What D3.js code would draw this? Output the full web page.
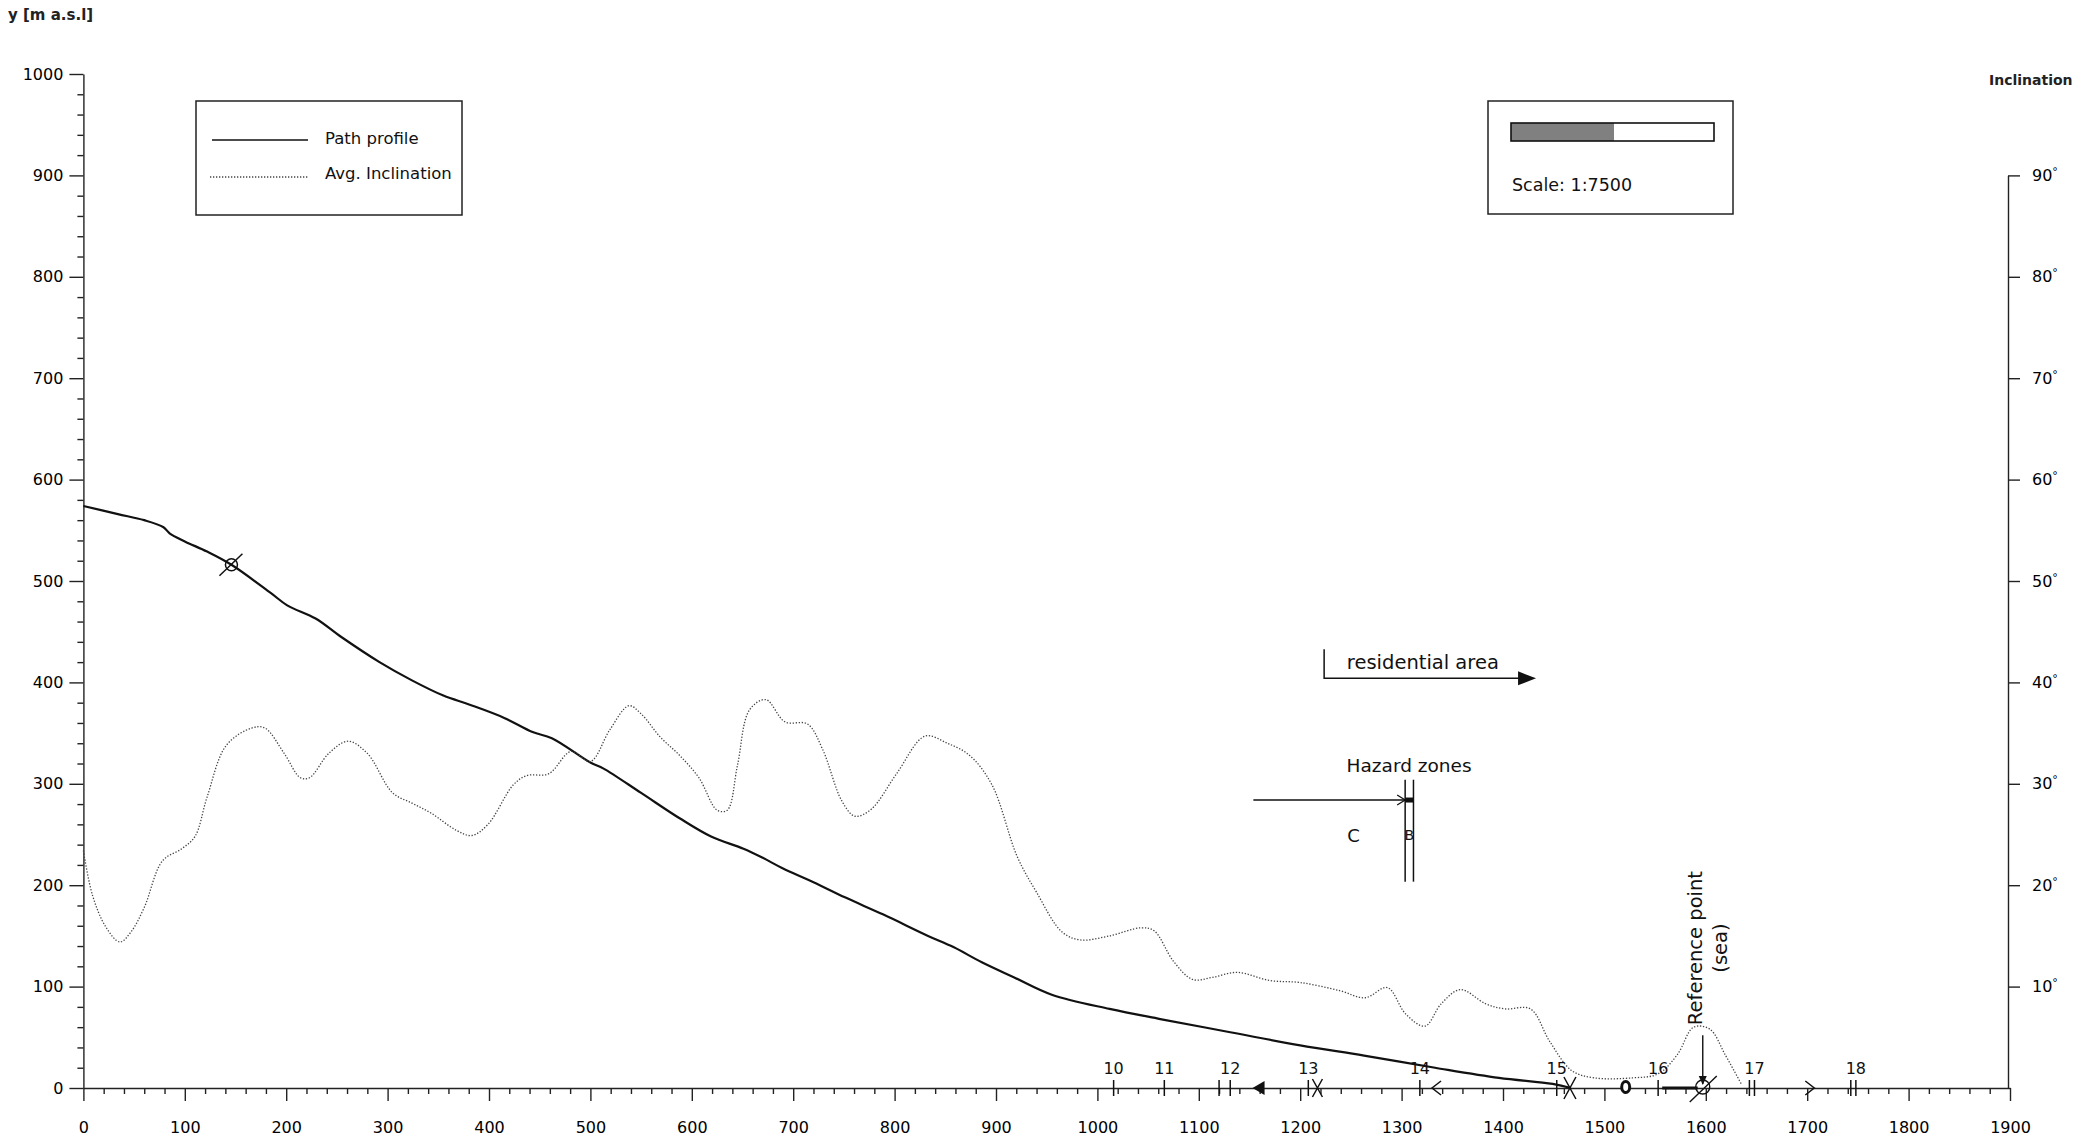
<!DOCTYPE html>
<html>
<head>
<meta charset="utf-8">
<script src="https://cdn.jsdelivr.net/npm/d3@7"></script>
<style>
  body { margin: 0; background: #fff; }
  svg { display: block; font-family: "DejaVu Sans", sans-serif; }
</style>
</head>
<body>
<svg id="chart" width="2076" height="1139"></svg>
<script>
// Path profile: distance along path [m] / elevation [m a.s.l]
const profileDist = [0, 34, 60, 79, 85, 100, 122, 146, 185, 201, 229, 254, 292, 324, 355, 381, 415, 443, 462, 500, 513, 550, 588, 619, 651, 670, 689, 720, 751, 789, 833, 858, 886, 918, 955, 1012, 1062, 1131, 1200, 1263, 1333, 1396, 1449, 1467];
const profileElev = [574, 566, 560, 553, 547, 539, 529, 516, 488, 476, 463, 445, 420, 402, 387, 378, 365, 351, 345, 321, 315, 291, 266, 248, 236, 227, 217, 203, 188, 171, 150, 139, 124, 109, 92, 78, 68, 55, 42, 32, 20, 10, 4, 0];

// Avg. inclination: distance [m] / degrees
const inclDist = [0, 9, 22, 36, 47, 60, 78, 97, 110, 122, 141, 166, 179, 198, 214, 223, 242, 261, 280, 305, 324, 343, 368, 383, 399, 424, 437, 459, 481, 500, 519, 538, 550, 569, 588, 607, 625, 635, 645, 657, 673, 692, 714, 729, 748, 761, 777, 802, 830, 852, 874, 896, 921, 940, 965, 983, 1012, 1043, 1056, 1075, 1094, 1113, 1138, 1170, 1200, 1239, 1264, 1286, 1304, 1323, 1339, 1358, 1383, 1402, 1427, 1446, 1468, 1490, 1528, 1553, 1572, 1588, 1604, 1619, 1635];
const inclDeg = [23.4, 19, 15.9, 14.4, 15.4, 17.8, 22.4, 23.6, 24.8, 28.7, 33.8, 35.5, 35.5, 33, 30.6, 30.6, 33, 34.2, 33, 29.1, 28.1, 27.1, 25.4, 24.9, 26, 29.9, 30.8, 31, 33.2, 32.2, 35.3, 37.7, 36.9, 34.6, 32.8, 30.6, 27.4, 27.4, 31.8, 37.3, 38.3, 36.1, 35.9, 33.4, 28.3, 26.8, 27.5, 31, 34.7, 34, 32.8, 29.9, 22.8, 19.3, 15.4, 14.6, 15, 15.8, 15.5, 12.5, 10.7, 10.9, 11.4, 10.6, 10.4, 9.6, 8.9, 9.9, 7.3, 6.1, 8.3, 9.7, 8.3, 7.8, 7.8, 4.6, 1.7, 1, 1, 1.4, 3.3, 6, 5.8, 3.3, 0.4];

// ticks
const xTicks = d3.range(0, 1901, 100);
const yTicks = d3.range(0, 1001, 100);
const incTicks = d3.range(10, 91, 10);

// numbered section marks along the path
const sectionNums = [10, 11, 12, 13, 14, 15, 16, 17, 18];
const sectionPos = [1016, 1066, 1131, 1208, 1318, 1453, 1553, 1648, 1748];

const svg = d3.select("#chart");
const x = d3.scaleLinear().domain([0, 1900]).range([83.4, 2010]);
const y = d3.scaleLinear().domain([0, 1000]).range([1088, 74]);
const yInc = d3.scaleLinear().domain([0, 90]).range([y(0), y(900)]);

// axes
const gx = svg.append("g").attr("transform", `translate(0,${y(0)})`)
  .call(d3.axisBottom(x).tickValues(xTicks).tickSize(13).tickSizeOuter(0).tickPadding(21).tickFormat(d => d));
svg.append("g").attr("transform", `translate(0,${y(0)})`)
  .call(d3.axisBottom(x).tickValues(d3.range(0, 1901, 20).filter(d => d % 100)).tickSize(6).tickFormat(""))
  .call(g => g.select(".domain").remove());

const gy = svg.append("g").attr("transform", `translate(${x(0)},0)`)
  .call(d3.axisLeft(y).tickValues(yTicks).tickSize(14).tickSizeOuter(0).tickPadding(6).tickFormat(d => d));
svg.append("g").attr("transform", `translate(${x(0)},0)`)
  .call(d3.axisLeft(y).tickValues(d3.range(0, 1001, 20).filter(d => d % 100)).tickSize(6).tickFormat(""))
  .call(g => g.select(".domain").remove());

const gr = svg.append("g").attr("transform", `translate(${x(1900) - 2},0)`)
  .call(d3.axisRight(yInc).tickValues(incTicks).tickSize(12).tickSizeOuter(0).tickPadding(12).tickFormat(d => d));
gr.selectAll(".tick text").append("tspan").attr("dy", "-0.55em").attr("font-size", 11).text("°");

[gx, gy, gr].forEach(g => {
  g.attr("font-size", 16).attr("font-family", "DejaVu Sans");
  g.selectAll("path, line").attr("stroke", "#222").attr("stroke-width", 1.4);
});
svg.selectAll(".tick line").attr("stroke", "#222").attr("stroke-width", 1.4);

// axis titles
svg.append("text").attr("x", 8).attr("y", 20).attr("font-size", 15).attr("font-weight", "bold")
  .attr("fill", "#222").text("y [m a.s.l]");
svg.append("text").attr("x", 1989).attr("y", 85).attr("font-size", 14).attr("font-weight", "bold")
  .attr("fill", "#222").text("Inclination");

// curves
const profileLine = d3.line().x(d => x(d[0])).y(d => y(d[1])).curve(d3.curveCatmullRom);
svg.append("path")
  .datum(d3.zip(profileDist, profileElev))
  .attr("d", profileLine)
  .attr("fill", "none").attr("stroke", "#111").attr("stroke-width", 2.2);

const inclLine = d3.line().x(d => x(d[0])).y(d => yInc(d[1])).curve(d3.curveCatmullRom);
svg.append("path")
  .datum(d3.zip(inclDist, inclDeg))
  .attr("d", inclLine)
  .attr("fill", "none").attr("stroke", "#444").attr("stroke-width", 1.3)
  .attr("stroke-dasharray", "1.3,1.7");

// crossed circle on the profile (start point)
const sx = x(146), sy = y(516);
svg.append("circle").attr("cx", sx).attr("cy", sy).attr("r", 6)
  .attr("fill", "none").attr("stroke", "#111").attr("stroke-width", 1.5);
svg.append("line").attr("x1", sx - 12).attr("y1", sy + 11).attr("x2", sx + 11).attr("y2", sy - 11)
  .attr("stroke", "#111").attr("stroke-width", 1.5);

// section marks on the x axis
const y0 = y(0);
const marks = svg.append("g").attr("stroke", "#111").attr("stroke-width", 1.5).attr("fill", "none");
sectionPos.concat([1120, 1643, 1743]).forEach(p => {
  marks.append("line").attr("x1", x(p)).attr("x2", x(p)).attr("y1", y0 - 8).attr("y2", y0 + 8);
});
svg.append("g").selectAll("text").data(sectionNums).join("text")
  .attr("x", (d, i) => x(sectionPos[i])).attr("y", y0 - 14)
  .attr("text-anchor", "middle").attr("font-size", 16).attr("fill", "#111")
  .text(d => d);

// filled left triangle
const tl = x(1153);
svg.append("path").attr("d", `M${tl},${y0}L${tl + 12},${y0 - 7}L${tl + 12},${y0 + 7}Z`).attr("fill", "#111");
// X marks
[[1217, 5, 9], [1466, 6, 11]].forEach(([p, w, h]) => {
  marks.append("path").attr("d", `M${x(p) - w},${y0 - h}L${x(p) + w},${y0 + h}M${x(p) + w},${y0 - h}L${x(p) - w},${y0 + h}`);
});
// open chevrons
const cl = x(1330), cr = x(1707);
marks.append("path").attr("d", `M${cl + 9},${y0 - 7}L${cl},${y0}L${cl + 9},${y0 + 7}`);
marks.append("path").attr("d", `M${cr - 9},${y0 - 7}L${cr},${y0}L${cr - 9},${y0 + 7}`);
// bold O and bold segment
svg.append("ellipse").attr("cx", x(1521)).attr("cy", y0 - 1).attr("rx", 4).attr("ry", 5.5)
  .attr("fill", "#fff").attr("stroke", "#111").attr("stroke-width", 3);
svg.append("line").attr("x1", x(1557)).attr("x2", x(1592)).attr("y1", y0).attr("y2", y0)
  .attr("stroke", "#111").attr("stroke-width", 3);
// crossed circle at reference point
const rp = x(1597);
svg.append("circle").attr("cx", rp).attr("cy", y0 - 1).attr("r", 7)
  .attr("fill", "none").attr("stroke", "#111").attr("stroke-width", 1.4);
svg.append("line").attr("x1", rp - 13).attr("y1", y0 + 14).attr("x2", rp + 14).attr("y2", y0 - 12)
  .attr("stroke", "#111").attr("stroke-width", 1.4);

// reference point label + arrow
svg.append("line").attr("x1", rp).attr("x2", rp).attr("y1", y(52)).attr("y2", y0 - 4)
  .attr("stroke", "#111").attr("stroke-width", 1.4);
svg.append("path").attr("d", `M${rp - 4},${y0 - 12}L${rp + 4},${y0 - 12}L${rp},${y0 - 3}Z`).attr("fill", "#111");
const refT = svg.append("text")
  .attr("transform", `translate(${x(1589.5)},${y(138)}) rotate(-90)`)
  .attr("text-anchor", "middle").attr("dominant-baseline", "central")
  .attr("font-size", 19.5).attr("fill", "#111");
refT.append("tspan").attr("x", 0).attr("y", 0).text("Reference point");
refT.append("tspan").attr("x", 0).attr("y", 25).text("(sea)");

// residential area
const ra = x(1223.6), raY = y(404);
svg.append("path").attr("d", `M${ra},${y(432.6)}L${ra},${raY}L${x(1432.6) - 16},${raY}`)
  .attr("fill", "none").attr("stroke", "#111").attr("stroke-width", 1.5);
svg.append("path").attr("d", `M${x(1432.6)},${raY}L${x(1432.6) - 18},${raY - 7}L${x(1432.6) - 18},${raY + 7}Z`)
  .attr("fill", "#111");
svg.append("text").attr("x", x(1246)).attr("y", y(413)).attr("font-size", 19.5).attr("fill", "#111")
  .text("residential area");

// hazard zones
const hz1 = x(1303.5), hz2 = x(1311.7), hzY = y(284);
svg.append("text").attr("x", x(1307.4)).attr("y", y(312)).attr("text-anchor", "middle")
  .attr("font-size", 18.5).attr("fill", "#111").text("Hazard zones");
svg.append("line").attr("x1", x(1153.8)).attr("x2", hz1).attr("y1", hzY).attr("y2", hzY)
  .attr("stroke", "#111").attr("stroke-width", 1.4);
svg.append("path").attr("d", `M${hz1 - 8},${hzY - 5}L${hz1},${hzY}L${hz1 - 8},${hzY + 5}`)
  .attr("fill", "none").attr("stroke", "#111").attr("stroke-width", 1.3);
svg.append("rect").attr("x", hz1).attr("y", hzY - 2.5).attr("width", hz2 - hz1).attr("height", 5).attr("fill", "#111");
[hz1, hz2].forEach(h => svg.append("line").attr("x1", h).attr("x2", h).attr("y1", y(304)).attr("y2", y(203.5))
  .attr("stroke", "#111").attr("stroke-width", 1.5));
svg.append("text").attr("x", x(1252.5)).attr("y", y(249.5)).attr("dominant-baseline", "central")
  .attr("text-anchor", "middle").attr("font-size", 18).attr("fill", "#111").text("C");
svg.append("text").attr("x", (hz1 + hz2) / 2).attr("y", y(249.5)).attr("dominant-baseline", "central")
  .attr("text-anchor", "middle").attr("font-size", 14).attr("fill", "#111").text("B");

// legend
const lg = svg.append("g");
lg.append("rect").attr("x", 196).attr("y", 101).attr("width", 266).attr("height", 114)
  .attr("fill", "none").attr("stroke", "#222").attr("stroke-width", 1.5);
lg.append("line").attr("x1", 212).attr("x2", 308).attr("y1", 140).attr("y2", 140)
  .attr("stroke", "#111").attr("stroke-width", 1.6);
lg.append("line").attr("x1", 210).attr("x2", 308).attr("y1", 177).attr("y2", 177)
  .attr("stroke", "#444").attr("stroke-width", 1.3).attr("stroke-dasharray", "1.3,1.7");
lg.append("text").attr("x", 325).attr("y", 144).attr("font-size", 16.5).attr("fill", "#111").text("Path profile");
lg.append("text").attr("x", 325).attr("y", 179).attr("font-size", 16.5).attr("fill", "#111").text("Avg. Inclination");

// scale box
const sb = svg.append("g");
sb.append("rect").attr("x", 1488).attr("y", 101).attr("width", 245).attr("height", 113)
  .attr("fill", "none").attr("stroke", "#222").attr("stroke-width", 1.5);
sb.append("rect").attr("x", 1511).attr("y", 123).attr("width", 103).attr("height", 18).attr("fill", "#808080");
sb.append("rect").attr("x", 1511).attr("y", 123).attr("width", 203).attr("height", 18)
  .attr("fill", "none").attr("stroke", "#111").attr("stroke-width", 1.6);
sb.append("text").attr("x", 1512).attr("y", 191).attr("font-size", 17.5).attr("fill", "#111").text("Scale: 1:7500");
</script>
</body>
</html>
